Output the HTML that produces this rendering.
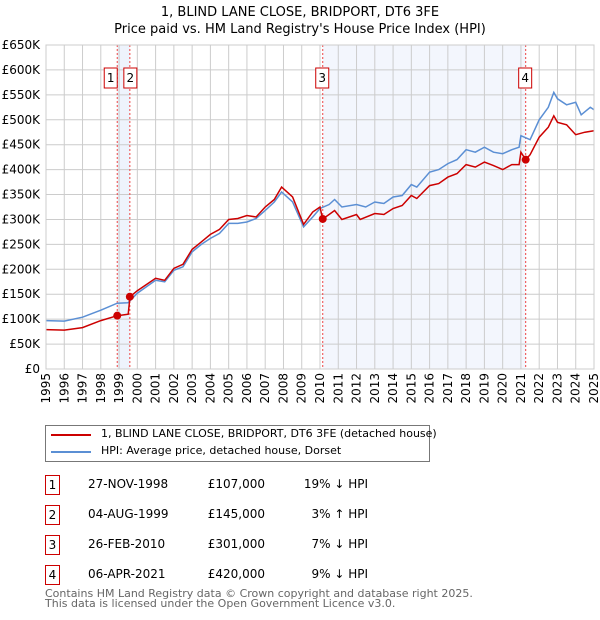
<!DOCTYPE html>
<html><head><meta charset="utf-8"><style>
body{margin:0;background:#fff;font-family:"DejaVu Sans","Liberation Sans",sans-serif;}
#wrap{position:relative;width:600px;height:620px;overflow:hidden;}
.t{position:absolute;font-size:12px;color:#000;white-space:nowrap;}
.box{position:absolute;width:13px;height:18px;border:1px solid #c00;font-size:12px;text-align:center;line-height:18px;}
</style></head><body><div id="wrap">
<div class="t" style="left:0;width:600px;text-align:center;top:4px;font-size:13px;line-height:17px">1, BLIND LANE CLOSE, BRIDPORT, DT6 3FE<br>Price paid vs. HM Land Registry's House Price Index (HPI)</div>
<svg id="chart" width="600" height="420" style="position:absolute;left:0;top:0"></svg>
<div style="position:absolute;left:45px;top:425px;width:383px;height:35px;border:1px solid #777;">
<div><div style="position:absolute;left:5px;top:8px;width:40px;height:2px;background:#c00"></div><div class="t" style="left:55px;top:1px;font-size:11px">1, BLIND LANE CLOSE, BRIDPORT, DT6 3FE (detached house)</div></div>
<div><div style="position:absolute;left:5px;top:25px;width:40px;height:2px;background:#5b8fd4"></div><div class="t" style="left:55px;top:18px;font-size:11px">HPI: Average price, detached house, Dorset</div></div>
</div>
<div id="table"></div>
<div class="t" style="left:45px;top:589px;font-size:11px;color:#666;line-height:10px">Contains HM Land Registry data © Crown copyright and database right 2025.<br>This data is licensed under the Open Government Licence v3.0.</div>
</div>
<script>
const hpiX=[1995,1996,1997,1998,1998.9,1999.5,2000,2001,2001.5,2002,2002.5,2003,2003.5,2004,2004.5,2005,2005.5,2006,2006.5,2007,2007.5,2007.9,2008.5,2009.1,2009.6,2010,2010.5,2010.8,2011.2,2012,2012.5,2013,2013.5,2014,2014.5,2015,2015.3,2016,2016.5,2017,2017.5,2018,2018.5,2019,2019.5,2020,2020.5,2020.9,2021,2021.5,2022,2022.5,2022.8,2023,2023.5,2024,2024.3,2024.8,2025];
const hpiY=[97,96,104,118,132,133,152,178,175,198,205,235,250,262,272,292,292,295,302,318,335,355,335,285,305,322,330,340,325,330,325,335,332,345,348,370,365,395,400,412,420,440,435,445,435,432,440,445,468,460,500,525,555,542,530,535,510,525,520];
const ppX=[1995,1996,1997,1998,1998.9,1999.5,1999.6,2000,2001,2001.5,2002,2002.5,2003,2003.5,2004,2004.5,2005,2005.5,2006,2006.5,2007,2007.5,2007.9,2008.5,2009.1,2009.6,2010,2010.15,2010.5,2010.8,2011.2,2012,2012.2,2013,2013.5,2014,2014.5,2015,2015.3,2016,2016.5,2017,2017.5,2018,2018.5,2019,2019.5,2020,2020.5,2020.9,2021,2021.26,2021.5,2022,2022.5,2022.8,2023,2023.5,2024,2024.5,2025];
const ppY=[79,78,83,97,107,110,145,157,182,178,202,210,240,255,270,280,300,302,308,305,325,340,365,345,290,315,325,301,310,318,300,310,300,312,310,322,328,348,342,368,372,385,392,410,405,415,408,400,410,410,435,420,430,465,485,508,495,490,470,475,478];
const saleLabels=["1","2","3","4"];
const saleX=[1998.9,1999.59,2010.15,2021.26];
const saleY=[107,145,301,420];
const saleDates=["27-NOV-1998","04-AUG-1999","26-FEB-2010","06-APR-2021"];
const salePrices=["£107,000","£145,000","£301,000","£420,000"];
const saleHpi=["19% ↓ HPI","3% ↑ HPI","7% ↓ HPI","9% ↓ HPI"];
const yTicks=[0,50,100,150,200,250,300,350,400,450,500,550,600,650];
const xTicks=[];for(let y=1995;y<=2025;y++)xTicks.push(y);
const L=46,R=594,T=45,B=369;
const sx=v=>L+(v-1995)/30*(R-L), sy=v=>B-v/650*(B-T);
const svg=document.getElementById('chart'),NS='http://www.w3.org/2000/svg';
function mk(tag,at,name){const e=document.createElementNS(NS,tag);for(const k in at)e.setAttribute(k,at[k]);


svg.appendChild(e);return e;}
mk('rect',{x:sx(saleX[0]),y:T,width:sx(saleX[1])-sx(saleX[0]),height:B-T,fill:'#eef3fc'},'shade-1-2');
mk('rect',{x:sx(saleX[2]),y:T,width:sx(saleX[3])-sx(saleX[2]),height:B-T,fill:'#f3f6fd'},'shade-3-4');
yTicks.forEach(v=>{mk('line',{x1:L,x2:R,y1:sy(v),y2:sy(v),stroke:'#ccc'},'y-grid');
const t=mk('text',{x:L-6,y:sy(v)+4,'text-anchor':'end','font-size':12},'y-tick-label');t.textContent='£'+(v?v+'K':'0');});
xTicks.forEach(v=>{mk('line',{x1:sx(v),x2:sx(v),y1:T,y2:B,stroke:'#ccc'},'x-grid');
const t=mk('text',{transform:`translate(${sx(v)+4},${B+4}) rotate(-90)`,'text-anchor':'end','font-size':12},'x-tick-label');t.textContent=v;});
saleX.forEach((v,i)=>{mk('line',{x1:sx(v),x2:sx(v),y1:T,y2:B,stroke:'#e44','stroke-dasharray':'2,2'},'sale-line');});
const pts=(xs,ys)=>xs.map((x,i)=>sx(x).toFixed(1)+','+sy(ys[i]).toFixed(1)).join(' ');
mk('polyline',{points:pts(hpiX,hpiY),fill:'none',stroke:'#5b8fd4','stroke-width':1.5},'hpi-line');
mk('polyline',{points:pts(ppX,ppY),fill:'none',stroke:'#c00','stroke-width':1.5},'price-paid-line');
saleX.forEach((v,i)=>{mk('circle',{cx:sx(v),cy:sy(saleY[i]),r:4,fill:'#c00'},'sale-marker');
const bx=i==0?sx(v)-13:(i==1?sx(v)-6:sx(v)-7);
mk('rect',{x:bx,y:68,width:13,height:20,fill:'#fff',stroke:'#c00'},'sale-label-box');
const t=mk('text',{x:bx+6.5,y:82,'text-anchor':'middle','font-size':12},'sale-label');t.textContent=saleLabels[i];});
mk('rect',{x:L,y:T,width:R-L,height:B-T,fill:'none',stroke:'#ccc'},'plot-frame');
const tb=document.getElementById('table');
saleLabels.forEach((s,i)=>{const y=475+i*30;const row=document.createElement('div');


row.innerHTML=`<div class="box" style="left:45px;top:${y}px">${s}</div><div class="t" style="left:88px;top:${y+2}px;width:72px;text-align:center">${saleDates[i]}</div><div class="t" style="left:205px;top:${y+2}px;width:60px;text-align:right">${salePrices[i]}</div><div class="t" style="left:290px;top:${y+2}px;width:78px;text-align:right">${saleHpi[i]}</div>`;
tb.appendChild(row);});
</script></body></html>
